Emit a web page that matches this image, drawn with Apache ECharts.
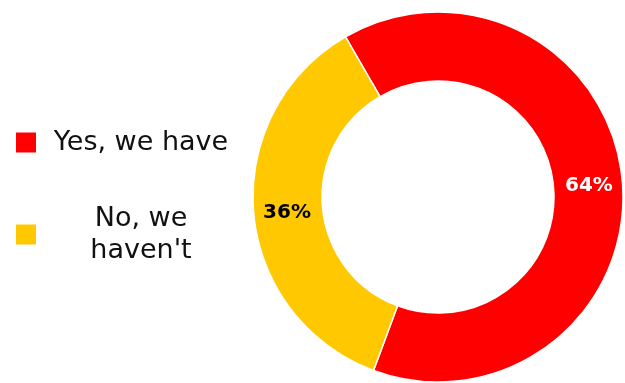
<!DOCTYPE html>
<html>
<head>
<meta charset="utf-8">
<script src="https://cdn.jsdelivr.net/npm/echarts@6/dist/echarts.min.js"></script>
<style>
  html, body { margin: 0; padding: 0; background: #fff; }
  #chart { width: 625px; height: 383px; }
</style>
</head>
<body>
<div id="chart"></div>
<script>
// ---------------------------------------------------
// Data
// ---------------------------------------------------
const answers = ["Yes, we have", "No, we haven't"];
const shares = [64, 36];
const legendLines = [["Yes, we have"], ["No, we", "haven't"]];
const sliceColors = ["#ff0000", "#ffc800"];
const labelColors = ["#ffffff", "#000000"];

const chart = echarts.init(document.getElementById("chart"));

chart.setOption({
  animation: false,
  legend: {
    orient: "vertical",
    left: 14,
    top: 129,
    padding: 0,
    itemGap: 49,
    icon: "rect",
    itemWidth: 22,
    itemHeight: 22,
    selectedMode: false,
    data: answers,
    formatter: name => {
      const lines = legendLines[answers.indexOf(name)];
      return lines.map(l => `{t|${l}}`).join("\n");
    },
    textStyle: {
      rich: {
        t: {
          width: 198,
          align: "center",
          fontFamily: "DejaVu Sans",
          fontSize: 27,
          lineHeight: 32,
          color: "#111"
        }
      }
    }
  },
  series: [
    {
      type: "pie",
      center: [438, 197],
      radius: [116, 185],
      startAngle: 120,
      clockwise: true,
      silent: true,
      itemStyle: { borderColor: "#fff", borderWidth: 1.5 },
      label: {
        show: true,
        position: "inside",
        formatter: "{c}%",
        fontFamily: "DejaVu Sans",
        fontWeight: "bold",
        fontSize: 20
      },
      labelLine: { show: false },
      data: answers.map((name, i) => ({
        name,
        value: shares[i],
        itemStyle: { color: sliceColors[i] },
        label: { color: labelColors[i], offset: i === 0 ? [-2, 2] : [2, 3] }
      }))
    }
  ]
});
</script>
</body>
</html>
